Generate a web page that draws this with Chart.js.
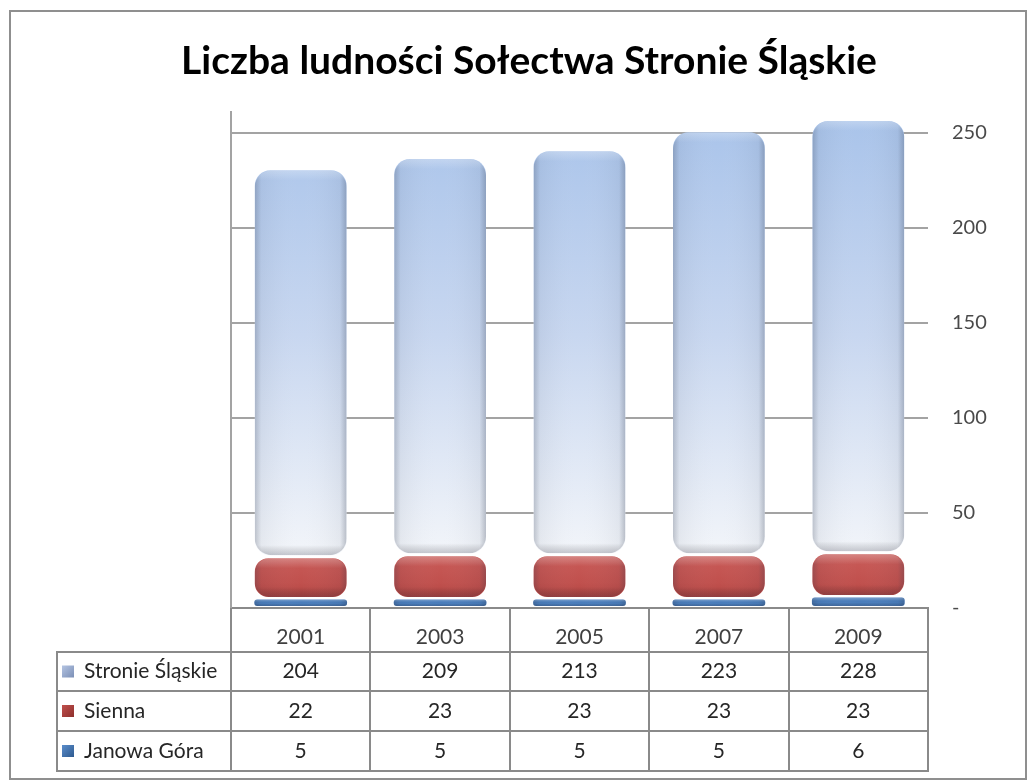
<!DOCTYPE html>
<html>
<head>
<meta charset="utf-8">
<script src="https://cdn.jsdelivr.net/npm/chart.js@4.4.1/dist/chart.umd.min.js"></script>
<style>
  html, body { margin: 0; padding: 0; background: #ffffff; }
  #wrap { width: 1031px; height: 782px; }
</style>
</head>
<body>
<div id="wrap"><canvas id="c" width="1031" height="782"></canvas></div>
<script>
const title = 'Liczba ludności Sołectwa Stronie Śląskie';
const categories = ['2001', '2003', '2005', '2007', '2009'];
const seriesNames = ['Stronie Śląskie', 'Sienna', 'Janowa Góra'];
const stronieSlaskie = [204, 209, 213, 223, 228];
const sienna = [22, 23, 23, 23, 23];
const janowaGora = [5, 5, 5, 5, 6];
const yTickValues = [0, 50, 100, 150, 200, 250];
const yAxisMax = 261;

const FONT = 'Lato, "Open Sans", sans-serif';
const GRID = '#a3a3a3';
const TABLE_LINE = '#8a8a8a';

function radius(r) {
  return { topLeft: r, topRight: r, bottomLeft: r, bottomRight: r };
}

function stronieFill(ctx) {
  const chart = ctx.chart;
  const a = chart.chartArea;
  if (!a) return '#c4d4ec';
  const g = chart.ctx.createLinearGradient(0, a.top, 0, a.bottom);
  g.addColorStop(0, '#a8c3ea');
  g.addColorStop(0.45, '#c8d7f0');
  g.addColorStop(0.88, '#f1f4f9');
  g.addColorStop(1, '#f6f8fb');
  return g;
}

function redFill(ctx) {
  const chart = ctx.chart;
  const a = chart.chartArea;
  if (!a) return '#c0504d';
  const g = chart.ctx.createLinearGradient(0, a.bottom - 50, 0, a.bottom);
  g.addColorStop(0, '#c85a57');
  g.addColorStop(0.5, '#c0504d');
  g.addColorStop(1, '#a63e3b');
  return g;
}

// 3D-ish side shading for bars
const shadePlugin = {
  id: 'shade',
  afterDatasetsDraw(chart) {
    const ctx = chart.ctx;
    chart.data.datasets.forEach((ds, di) => {
      const meta = chart.getDatasetMeta(di);
      meta.data.forEach((bar) => {
        const p = bar.getProps(['x', 'y', 'base', 'width'], true);
        const bw = ds.borderWidth || 0;
        const left = p.x - p.width / 2 + bw, right = p.x + p.width / 2 - bw;
        const top = Math.min(p.y, p.base) + bw, bottom = Math.max(p.y, p.base) - bw;
        if (bottom - top <= 0) return;
        const r = Math.min(ds.borderRadius.topLeft, (bottom - top) / 2, (right - left) / 2);
        ctx.save();
        ctx.beginPath();
        ctx.roundRect(left, top, right - left, bottom - top, Math.max(r, 0));
        ctx.clip();
        const g = ctx.createLinearGradient(left, 0, right, 0);
        g.addColorStop(0, 'rgba(40,50,70,0.25)');
        g.addColorStop(0.07, 'rgba(40,50,70,0.06)');
        g.addColorStop(0.5, 'rgba(255,255,255,0.0)');
        g.addColorStop(0.93, 'rgba(40,50,70,0.06)');
        g.addColorStop(1, 'rgba(40,50,70,0.28)');
        ctx.fillStyle = g;
        ctx.fillRect(left, top, right - left, bottom - top);
        const gv = ctx.createLinearGradient(0, top, 0, bottom);
        const h = bottom - top;
        const e = Math.min(10 / h, 0.4);
        gv.addColorStop(0, 'rgba(255,255,255,0.25)');
        gv.addColorStop(e, 'rgba(255,255,255,0)');
        gv.addColorStop(1 - e, 'rgba(0,0,0,0)');
        gv.addColorStop(1, 'rgba(30,30,50,0.22)');
        ctx.fillStyle = gv;
        ctx.fillRect(left, top, right - left, bottom - top);
        ctx.restore();
      });
    });
  }
};

const framePlugin = {
  id: 'frame',
  beforeDraw(chart) {
    const ctx = chart.ctx;
    ctx.save();
    ctx.fillStyle = '#ffffff';
    ctx.fillRect(0, 0, chart.width, chart.height);
    ctx.strokeStyle = '#8f8f8f';
    ctx.lineWidth = 2;
    ctx.strokeRect(10, 11, 1016, 768);
    ctx.restore();
  }
};

// Data table under the plot, drawn from the series arrays and the x scale
const tablePlugin = {
  id: 'dataTable',
  afterDraw(chart) {
    const ctx = chart.ctx;
    const a = chart.chartArea;
    const xs = chart.scales.x;
    const n = categories.length;
    const colW = (a.right - a.left) / n;
    const labelLeft = 57;
    const rowLines = [652, 691, 731, 771];
    const rows = [
      { name: seriesNames[0], values: stronieSlaskie, color: '#b4c4e2', dark: '#7b8fb6' },
      { name: seriesNames[1], values: sienna, color: '#c0504d', dark: '#8e2f2c' },
      { name: seriesNames[2], values: janowaGora, color: '#5b8dcb', dark: '#2e5a8f' }
    ];
    ctx.save();
    ctx.strokeStyle = TABLE_LINE;
    ctx.lineWidth = 2;
    ctx.beginPath();
    for (let i = 0; i <= n; i++) {
      const x = Math.round(a.left + i * colW);
      ctx.moveTo(x, a.bottom);
      ctx.lineTo(x, rowLines[rowLines.length - 1]);
    }
    ctx.moveTo(labelLeft, rowLines[0]);
    ctx.lineTo(labelLeft, rowLines[rowLines.length - 1]);
    rowLines.forEach((y) => {
      ctx.moveTo(labelLeft - 1, y);
      ctx.lineTo(a.right + 1, y);
    });
    ctx.stroke();

    ctx.font = '21px ' + FONT;
    ctx.textBaseline = 'middle';
    rows.forEach((row, r) => {
      const yc = (rowLines[r] + rowLines[r + 1]) / 2;
      const kx = 62, ky = yc - 6;
      const kg = ctx.createLinearGradient(kx, ky, kx + 12, ky + 12);
      kg.addColorStop(0, row.color);
      kg.addColorStop(1, row.dark);
      ctx.fillStyle = kg;
      ctx.fillRect(kx, ky, 12, 12);
      ctx.fillStyle = '#262626';
      ctx.textAlign = 'left';
      ctx.fillText(row.name, 84, yc);
      ctx.textAlign = 'center';
      row.values.forEach((v, i) => {
        ctx.fillText(String(v), xs.getPixelForValue(i), yc);
      });
    });
    ctx.restore();
  }
};

const common = {
  stack: 's',
  borderWidth: 1.5,
  borderColor: 'rgba(255,255,255,0)',
  borderSkipped: false,
  inflateAmount: 0,
  categoryPercentage: 1,
  barPercentage: 0.68
};

new Chart(document.getElementById('c'), {
  type: 'bar',
  data: {
    labels: categories,
    datasets: [
      Object.assign({ label: seriesNames[2], data: janowaGora, backgroundColor: '#4a7dbb', borderRadius: radius(4) }, common, { borderWidth: 1 }),
      Object.assign({ label: seriesNames[1], data: sienna, backgroundColor: redFill, borderRadius: radius(15) }, common),
      Object.assign({ label: seriesNames[0], data: stronieSlaskie, backgroundColor: stronieFill, borderRadius: radius(17) }, common)
    ]
  },
  options: {
    responsive: false,
    animation: false,
    devicePixelRatio: 1,
    layout: { padding: { left: 27, right: 0, top: 0, bottom: 0 } },
    plugins: {
      legend: { display: false },
      tooltip: { enabled: false },
      title: {
        display: true,
        text: title,
        color: '#000000',
        font: { family: FONT, size: 39, weight: 'bold' },
        padding: { top: 38, bottom: 27 }
      }
    },
    scales: {
      x: {
        stacked: true,
        position: 'bottom',
        grid: { display: false },
        border: { display: true, color: TABLE_LINE, width: 2 },
        ticks: { color: '#404040', font: { family: FONT, size: 21 }, padding: 9 },
        afterFit(s) { s.height = 782 - 608; }
      },
      y: {
        stacked: true,
        position: 'right',
        min: 0,
        max: yAxisMax,
        grid: { color: GRID, lineWidth: 2, drawTicks: false },
        border: { display: false },
        afterBuildTicks(s) { s.ticks = yTickValues.map((v) => ({ value: v })); },
        ticks: {
          color: '#4a4a4a',
          font: { family: FONT, size: 20 },
          padding: 24,
          callback: (v) => (v === 0 ? '-' : String(v))
        },
        afterFit(s) { s.width = 1031 - 928; }
      },
      yLeft: {
        type: 'linear',
        position: 'left',
        display: true,
        grid: { display: false, drawOnChartArea: false },
        border: { display: true, color: GRID, width: 2 },
        ticks: { display: false },
        afterFit(s) { s.width = 231 - 27; }
      }
    }
  },
  plugins: [framePlugin, shadePlugin, tablePlugin]
});
</script>
</body>
</html>
